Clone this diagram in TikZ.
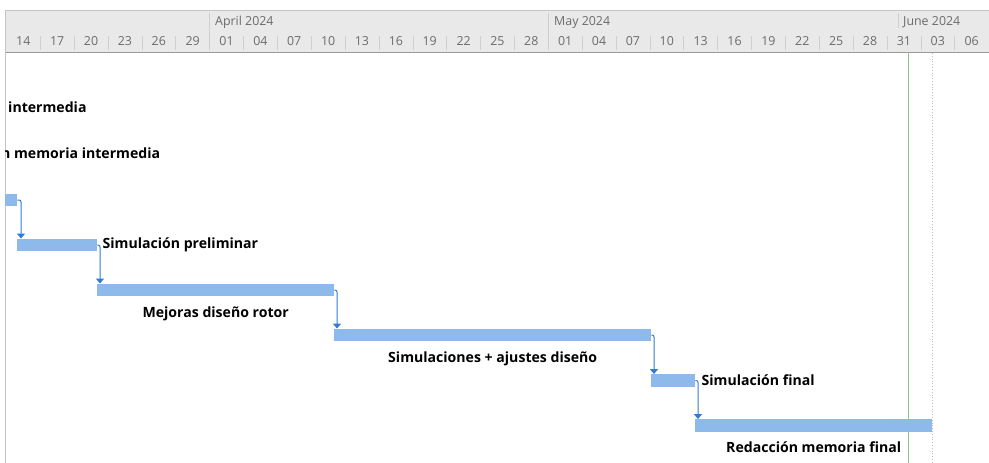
\documentclass[tikz,border=0pt]{standalone}
\usepackage{fontspec}
\setmainfont{Open Sans}
\usepackage{tikz}
\usetikzlibrary{positioning,arrows.meta}
\definecolor{GanttBar}{HTML}{8DBAEA}
\definecolor{GanttLink}{HTML}{2F7BD6}
\definecolor{GanttHead}{HTML}{E9E9E9}
\definecolor{GanttRule}{HTML}{C4C4C4}
\definecolor{GanttTick}{HTML}{CFCFCF}
\definecolor{GanttText}{HTML}{6B6B6B}
\definecolor{GanttToday}{HTML}{8CC48C}

\tikzset{
  bar/.style={fill=GanttBar,draw=none,inner sep=0pt,minimum height=12.5pt,anchor=west},
  lbl/.style={font=\fontsize{14.1}{16}\selectfont\bfseries,inner sep=0pt},
  link/.style={draw=GanttLink,line width=1pt,rounded corners=2pt,-{Triangle[width=8pt,length=5pt]}},
  scalelbl/.style={font=\fontsize{12.4}{14}\selectfont,text=GanttText,inner sep=0pt}
}

\begin{document}
\begin{tikzpicture}[x=1pt,y=-1pt]
  \useasboundingbox (0,0) rectangle (989,463);
  % timescale header
  \fill[GanttHead] (5,10) rectangle (989,52);
  \draw[GanttRule] (5,10)--(989,10);
  \draw[gray!80] (5,52)--(989,52);
  \draw[GanttRule] (5,10)--(5,463);
  \node[scalelbl,anchor=west] (apr) at (215,22.5) {April 2024};
  \node[scalelbl,anchor=west] (may) at (554,22.5) {May 2024};
  \node[scalelbl,anchor=west] (jun) at (903,22.5) {June 2024};
  \foreach \d [count=\i from 0] in {14,17,20,23,26,29,01,04,07,10,13,16,19,22,25,28,01,04,07,10,13,16,19,22,25,28,31,03,06}{
    \pgfmathsetmacro{\xx}{209.5+11.29*(3*\i-18)+17}
    \node[scalelbl] (d\i) at (\xx,41.5) {\d};
  }
  \foreach \i in {1,...,28}{
    \pgfmathsetmacro{\xx}{209.5+11.29*(3*\i-18)}
    \draw[GanttTick] (\xx,36)--(\xx,50);
  }
  \draw[GanttTick] (209.5,13)--(209.5,50);
  \draw[GanttTick] (548.2,13)--(548.2,50);
  \draw[GanttTick] (898,13)--(898,28);
  % status and finish lines
  \draw[GanttToday] (908.5,52)--(908.5,463);
  \draw[gray!50,dotted,line width=0.8pt] (932,53)--(932,463);

  % bars
  \node[bar,minimum width=12pt] (t0) at (5,200) {};
  \node[bar,minimum width=80pt] (t1) at (17,245) {};
  \node[bar,minimum width=237pt] (t2) at (97,290) {};
  \node[bar,minimum width=317pt] (t3) at (334,335) {};
  \node[bar,minimum width=44pt] (t4) at (651,380.5) {};
  \node[bar,minimum width=237pt] (t5) at (695,425.5) {};

  % labels
  \begin{scope}
    \clip (5,52) rectangle (989,463);
    \node[lbl,anchor=west] (l0) at (8,107.5) {intermedia};
    \node[lbl,anchor=west] (l1) at (1,153.5) {n memoria intermedia};
  \end{scope}
  \node[lbl,right=5pt of t1] (l2) {Simulación preliminar};
  \node[lbl,below=10.5pt of t2] (l3) {Mejoras diseño rotor};
  \node[lbl,below=10.5pt of t3] (l4) {Simulaciones + ajustes diseño};
  \node[lbl,right=6pt of t4] (l5) {Simulación final};
  \node[lbl,below=10pt of t5] (l6) {Redacción memoria final};

  % finish-to-start links
  \draw[link] (t0.east) -| ([xshift=4pt]t1.north west);
  \draw[link] (t1.east) -| ([xshift=3pt]t2.north west);
  \draw[link] (t2.east) -| ([xshift=3pt]t3.north west);
  \draw[link] (t3.east) -| ([xshift=3pt]t4.north west);
  \draw[link] (t4.east) -| ([xshift=3pt]t5.north west);
\end{tikzpicture}
\end{document}
